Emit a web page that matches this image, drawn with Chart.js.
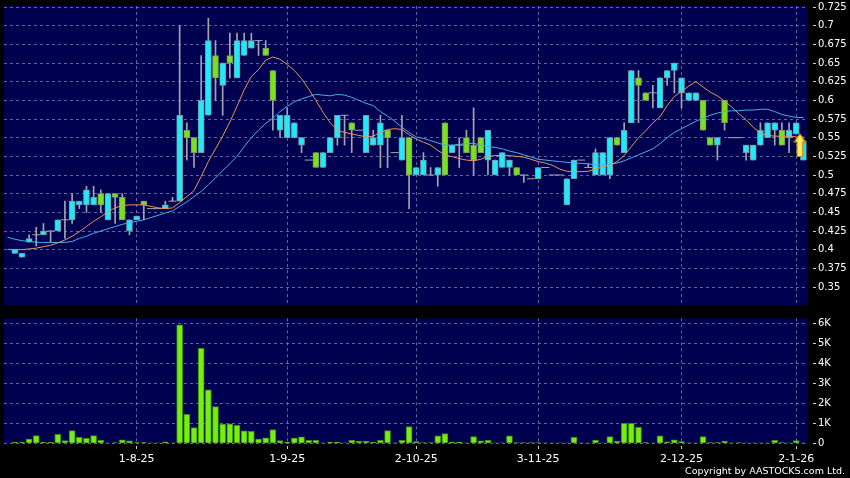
<!DOCTYPE html>
<html><head><meta charset="utf-8">
<script src="https://cdn.jsdelivr.net/npm/chart.js@4.4.1/dist/chart.umd.min.js"></script>
<style>
html,body{margin:0;padding:0;background:#000;width:850px;height:478px;overflow:hidden;}
#price{position:absolute;left:0;top:0;}
#vol{position:absolute;left:0;top:310px;}
#copy{position:absolute;right:5px;top:465px;color:#fff;font-family:"DejaVu Sans";font-size:9.5px;line-height:11px;white-space:nowrap;}
</style></head><body>
<canvas id="price" width="850" height="310"></canvas>
<canvas id="vol" width="850" height="168"></canvas>
<div id="copy">Copyright by AASTOCKS.com Ltd.</div>
<script>
// ---- data (slot 0 is an empty leading slot) ----
const slots = Array.from({length: 112}, (_, k) => k);
const tickSlots  = [18, 39, 57, 74, 94, 110];
const tickLabels = ['1-8-25', '1-9-25', '2-10-25', '3-11-25', '2-12-25', '2-1-26'];
const priceTicks = [0.35,0.375,0.4,0.425,0.45,0.475,0.5,0.525,0.55,0.575,0.6,0.625,0.65,0.675,0.7,0.725];
const volumeTicks = [0,1000,2000,3000,4000,5000,6000];

const opens = [null,
 .395,.39,.41,.42,.42,.425,.425,.44,.44,.46,
 .46,.46,.475,.44,.475,.47,.425,.44,.465,.455,
 .455,.455,.465,.465,.56,.55,.53,.58,.66,.62,
 .66,.63,.66,.67,.68,.67,.64,.56,.55,.55,
 .54,.52,.53,.51,.53,.55,.58,.57,.56,.53,
 .54,.54,.56,.53,.52,.55,.50,.50,.50,.50,
 .57,.53,.54,.55,.54,.55,.52,.50,.51,.51,
 .51,.50,.495,.495,.51,.50,.50,.46,.495,.52,
 .51,.50,.50,.50,.55,.53,.57,.63,.61,.61,
 .59,.63,.64,.61,.60,.60,.60,.55,.54,.60,
 .55,.55,.53,.52,.54,.55,.56,.56,.55,.555,
 .52];
const highs = [null,
 .40,.395,.42,.43,.435,.425,.44,.465,.475,.465,
 .485,.485,.48,.475,.475,.475,.44,.445,.465,.455,
 .455,.465,.47,.70,.57,.55,.66,.71,.68,.65,
 .69,.69,.69,.69,.68,.68,.64,.58,.59,.57,
 .55,.52,.53,.53,.55,.58,.58,.57,.56,.58,
 .56,.58,.56,.53,.58,.55,.51,.53,.51,.51,
 .57,.54,.55,.56,.59,.55,.56,.52,.53,.52,
 .51,.50,.495,.51,.51,.50,.50,.495,.52,.52,
 .515,.535,.53,.55,.55,.57,.64,.64,.61,.62,
 .63,.64,.65,.63,.61,.61,.60,.55,.55,.60,
 .55,.55,.54,.54,.57,.57,.57,.57,.57,.57,
 .545];
const lows = [null,
 .395,.39,.41,.405,.42,.41,.425,.415,.435,.455,
 .45,.46,.45,.44,.435,.44,.42,.44,.44,.455,
 .455,.455,.465,.465,.52,.51,.53,.58,.60,.58,
 .63,.63,.66,.67,.66,.66,.56,.55,.55,.55,
 .53,.52,.51,.51,.53,.54,.54,.53,.56,.53,
 .54,.51,.51,.53,.52,.455,.50,.50,.50,.485,
 .50,.53,.51,.53,.50,.53,.50,.50,.51,.50,
 .50,.49,.495,.495,.51,.50,.50,.46,.495,.52,
 .51,.50,.50,.495,.54,.53,.57,.57,.60,.59,
 .59,.62,.61,.59,.60,.60,.56,.54,.52,.56,
 .55,.55,.52,.52,.54,.55,.54,.54,.53,.555,
 .52];
const closes = [null,
 .40,.395,.415,.42,.425,.425,.44,.44,.465,.465,
 .48,.47,.46,.475,.47,.44,.44,.445,.46,.455,
 .455,.46,.465,.58,.55,.53,.60,.68,.63,.65,
 .65,.68,.68,.68,.68,.66,.60,.58,.58,.57,
 .55,.52,.51,.53,.55,.58,.58,.56,.56,.58,
 .55,.57,.55,.53,.55,.50,.51,.52,.50,.51,
 .50,.54,.54,.53,.52,.53,.56,.52,.53,.52,
 .50,.50,.495,.51,.51,.50,.50,.495,.52,.52,
 .51,.53,.53,.55,.54,.56,.64,.62,.60,.61,
 .63,.64,.65,.63,.61,.61,.56,.54,.55,.57,
 .55,.55,.54,.54,.56,.57,.57,.54,.56,.57,
 .545];
const volumes = [null,
 50,50,215,380,50,50,450,130,630,300,
 250,380,150,10,30,170,120,40,40,10,
 10,70,20,5920,1450,780,4750,2670,1830,960,
 970,900,620,600,210,270,690,140,60,260,
 320,150,150,20,60,60,20,150,100,100,
 50,150,630,10,150,840,90,30,30,370,
 490,60,60,10,330,120,150,20,20,370,
 30,30,30,30,10,10,10,10,300,10,
 10,160,20,330,100,1000,1000,800,40,20,
 370,70,170,90,20,20,330,40,40,100,
 10,30,10,10,10,10,150,40,10,130,
 10];
const maShort = [0.4005,
 .400,.400,.401,.402,.404,.406,.409,.413,.418,.424,
 .431,.438,.444,.451,.456,.459,.460,.460,.460,.458,
 .456,.455,.456,.463,.471,.479,.498,.518,.535,.552,
 .571,.592,.614,.632,.641,.654,.658,.655,.648,.640,
 .629,.615,.600,.584,.570,.560,.557,.555,.553,.551,
 .552,.557,.561,.562,.561,.554,.548,.544,.540,.533,
 .527,.5245,.522,.520,.519,.521,.525,.526,.526,.526,
 .525,.524,.521,.518,.516,.513,.508,.505,.5045,.5045,
 .505,.508,.511,.513,.518,.526,.538,.550,.559,.570,
 .578,.593,.605,.612,.619,.625,.618,.611,.606,.599,
 .591,.582,.574,.564,.556,.553,.552,.552,.552,.551,
 .551];
const maLong = [0.4166,
 .414,.412,.411,.410,.4097,.4097,.4097,.4097,.411,.415,
 .418,.422,.425,.428,.431,.434,.436,.438,.440,.443,
 .446,.449,.452,.458,.464,.471,.478,.487,.496,.506,
 .515,.525,.538,.550,.560,.569,.576,.585,.592,.598,
 .602,.605,.608,.607,.606,.608,.607,.604,.600,.596,
 .593,.585,.579,.572,.564,.557,.551,.549,.546,.543,
 .540,.540,.541,.542,.5425,.540,.538,.537,.535,.532,
 .530,.527,.524,.521,.520,.519,.518,.517,.516,.5156,
 .515,.5134,.5134,.514,.516,.519,.523,.527,.531,.535,
 .542,.550,.557,.562,.567,.572,.576,.580,.583,.585,
 .586,.586,.587,.587,.588,.588,.585,.581,.579,.577,
 .577];
const lastMarker = {slot: 111, value: 0.54};

// ---- styles ----
const NAVY = '#000050';
const GRID = 'rgba(125,125,175,0.8)';
const CYAN = '#22e8f8', CYAN_EDGE = '#6c9ea8';
const GREEN = '#7ae21c', GREEN_EDGE = '#7c9a62';
const WICK = '#a4a4ae';
const ORANGE = '#e8945e', BLUE = '#4aaeea';
const VOL = '#77ee11', VOL_EDGE = '#3f8f0a';
const FONT = 'DejaVu Sans';

const bodyData = slots.map(k => (opens[k] == null || opens[k] === closes[k]) ? null : [Math.min(opens[k], closes[k]), Math.max(opens[k], closes[k])]);
const wickData = slots.map(k => (opens[k] == null || highs[k] === lows[k]) ? null : [lows[k], highs[k]]);
const flatData = slots.map(k => (opens[k] != null && opens[k] === closes[k]) ? opens[k] : null);
const markerData = slots.map(k => k === lastMarker.slot ? lastMarker.value : null);

function makeArrow() {
  const c = document.createElement('canvas');
  c.width = 20; c.height = 24;
  const g = c.getContext('2d');
  const grad = g.createLinearGradient(0, 0, 13, 0);
  grad.addColorStop(0, '#e8b400'); grad.addColorStop(0.5, '#fff470'); grad.addColorStop(1, '#d8a000');
  g.fillStyle = grad;
  g.beginPath();
  g.moveTo(6.5, 0.5); g.lineTo(12.5, 9); g.lineTo(9.5, 9); g.lineTo(9.5, 23.5);
  g.lineTo(3.5, 23.5); g.lineTo(3.5, 9); g.lineTo(0.5, 9); g.closePath();
  g.fill();
  g.strokeStyle = '#b07a00'; g.lineWidth = 1; g.stroke();
  return c;
}

const plotBg = {
  id: 'plotBg',
  beforeDraw(chart) {
    const {ctx, chartArea: a} = chart;
    ctx.save();
    ctx.fillStyle = NAVY;
    ctx.fillRect(a.left, a.top, a.right - a.left, a.bottom - a.top);
    ctx.restore();
  }
};

const isTick = k => tickSlots.includes(k);
const common = {
  responsive: false, animation: false, events: [],
  plugins: {legend: {display: false}, tooltip: {enabled: false}},
};

new Chart(document.getElementById('price'), {
  type: 'bar',
  data: {
    labels: slots,
    datasets: [
      {type: 'line', data: markerData, showLine: false, pointStyle: makeArrow(), pointRadius: 10, clip: false, order: 0},
      {type: 'line', data: maShort, borderColor: ORANGE, borderWidth: 1, pointRadius: 0, tension: 0, order: 1},
      {type: 'line', data: maLong, borderColor: BLUE, borderWidth: 1, pointRadius: 0, tension: 0, order: 2},
      {type: 'line', data: flatData, showLine: false, pointStyle: 'line', pointRadius: 4, pointBorderColor: WICK, pointBorderWidth: 1, order: 3},
      {type: 'bar', data: bodyData, grouped: false, barThickness: 6, borderWidth: 1, borderSkipped: false,
       backgroundColor: c => closes[c.dataIndex] > opens[c.dataIndex] ? CYAN : GREEN,
       borderColor: c => closes[c.dataIndex] > opens[c.dataIndex] ? CYAN_EDGE : GREEN_EDGE, order: 4},
      {type: 'bar', data: wickData, grouped: false, barThickness: 1, borderWidth: 0, backgroundColor: WICK, order: 5}
    ]
  },
  options: {
    ...common,
    layout: {autoPadding: false, padding: {left: 4, right: 0, top: 6, bottom: 5}},
    scales: {
      x: {
        type: 'category', offset: true,
        grid: {offset: false, drawTicks: false, color: c => isTick(c.index) ? GRID : 'rgba(0,0,0,0)'},
        border: {display: false, dash: [3, 3]},
        ticks: {display: false, autoSkip: false},
        afterFit(s) { s.height = 0; s.paddingLeft = 0; s.paddingRight = 0; }
      },
      y: {
        position: 'right', min: 0.32591, max: 0.72634,
        afterBuildTicks(s) { s.ticks = priceTicks.map(v => ({value: v})); },
        ticks: {color: '#fff', font: {family: FONT, size: 10}, padding: 2,
                callback: v => String(Math.round(v * 1000) / 1000)},
        grid: {color: GRID, tickLength: 9, tickColor: '#d0d0d0', tickBorderDash: [0, 6, 3, 40]},
        border: {display: false, dash: [3, 3]},
        afterFit(s) { s.width = 43; s.paddingTop = 0; s.paddingBottom = 0; }
      }
    }
  },
  plugins: [plotBg]
});

new Chart(document.getElementById('vol'), {
  type: 'bar',
  data: {
    labels: slots,
    datasets: [
      {data: volumes, barThickness: 6, backgroundColor: VOL, borderColor: VOL_EDGE, borderWidth: 1, borderSkipped: 'bottom'}
    ]
  },
  options: {
    ...common,
    layout: {autoPadding: false, padding: {left: 4, right: 0, top: 8.3, bottom: 14.7}},
    scales: {
      x: {
        type: 'category', offset: true,
        grid: {offset: false, tickLength: 6, color: c => isTick(c.index) ? GRID : 'rgba(0,0,0,0)',
               tickColor: c => isTick(c.index) ? '#d0d0d0' : 'rgba(0,0,0,0)', tickBorderDash: [0, 3, 3, 40]},
        border: {display: false, dash: [3, 3]},
        ticks: {autoSkip: false, maxRotation: 0, minRotation: 0, color: '#fff', padding: 3,
                font: {family: FONT, size: 11},
                callback: (v, i) => { const j = tickSlots.indexOf(i); return j >= 0 ? tickLabels[j] : ''; }},
        afterFit(s) { s.height = 20; s.paddingLeft = 0; s.paddingRight = 0; }
      },
      y: {
        position: 'right', min: 0, max: 6250,
        afterBuildTicks(s) { s.ticks = volumeTicks.map(v => ({value: v})); },
        ticks: {color: '#fff', font: {family: FONT, size: 10}, padding: 2,
                callback: v => v === 0 ? '0' : (v / 1000) + 'K'},
        grid: {color: GRID, tickLength: 9, tickColor: '#d0d0d0', tickBorderDash: [0, 6, 3, 40]},
        border: {display: false, dash: [3, 3]},
        afterFit(s) { s.width = 43; s.paddingTop = 0; s.paddingBottom = 0; }
      }
    }
  },
  plugins: [plotBg]
});
</script>
</body></html>
